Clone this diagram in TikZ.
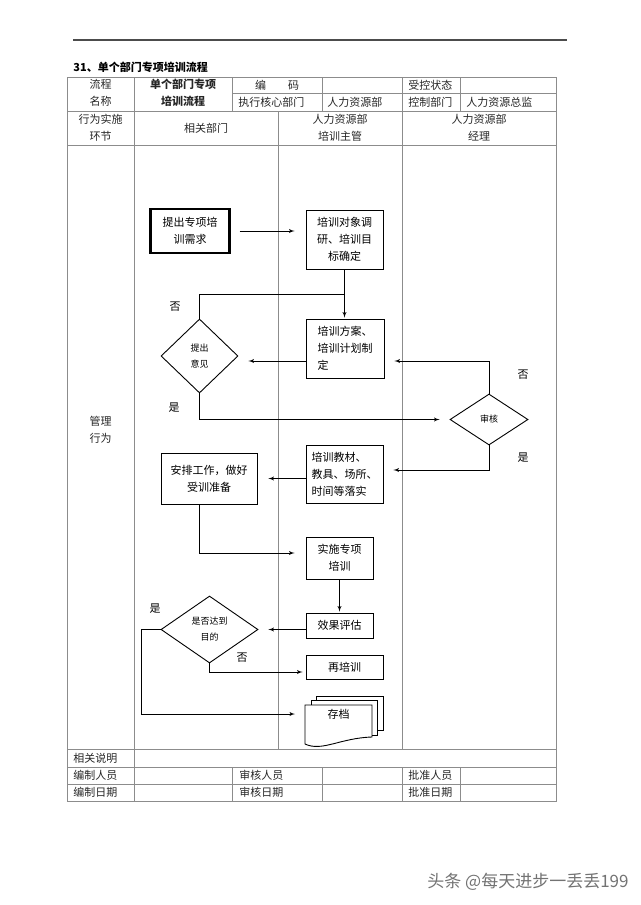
\documentclass[tikz,border=0pt]{standalone}
\usepackage{fontspec}
\setmainfont{Noto Sans CJK SC}
\usetikzlibrary{arrows,calc,positioning,shapes}
\tikzset{
flow/.style={>=latex',x=1pt,y=-1pt,line width=0.9pt,
font=\fontsize{11}{17}\selectfont},
tablerule/.style={draw=black!45,line width=0.9pt},
cellc/.style={inner sep=0pt,align=center,text=black!85},
celll/.style={cellc,anchor=west},
taskbox/.style={rectangle,draw,line width=0.9pt,inner sep=2pt,align=center},
startbox/.style={taskbox,line width=2.4pt},
choice/.style={diamond,draw,line width=0.9pt,inner sep=0pt,align=center,
font=\fontsize{9}{16}\selectfont},
flowarrow/.style={->,line width=0.9pt,shorten >=#1},
flowarrow/.default={1pt},
answer/.style={inner sep=0pt},
}

\begin{document}
\begin{tikzpicture}[flow]
\useasboundingbox (0,0) rectangle (640,905);
% heading
\draw[black!70,line width=1.4pt] (73,40) -- (567,40);
\node[anchor=west,inner sep=0pt,font=\fontsize{11}{13}\selectfont\bfseries] (title) at (73,67) {31、单个部门专项培训流程};

% table
\draw[tablerule] (67,77) rectangle (556,801);
\draw[tablerule] (232,93) -- (556,93);
\foreach \y in {111,145,749,767,784}
  \draw[tablerule] (67,\y) -- (556,\y);
\draw[tablerule] (134,77) -- (134,801);
\foreach \x in {232,322,460}{
  \draw[tablerule] (\x,77) -- (\x,111);
  \draw[tablerule] (\x,767) -- (\x,801);
}
\draw[tablerule] (402,77) -- (402,749);
\draw[tablerule] (402,767) -- (402,801);
\draw[tablerule] (278,111) -- (278,749);

\node[cellc] (hname) at (100.5,93) {流程\\名称};
\node[cellc,font=\fontsize{11}{17}\selectfont\bfseries] (hflow) at (183,93) {单个部门专项\\培训流程};
\node[cellc] (hcode) at (277,85) {编\hspace{22pt}码};
\node[celll] (hstate) at (408,85) {受控状态};
\node[celll] (hexec) at (238,102) {执行核心部门};
\node[celll] (hexecv) at (327,102) {人力资源部};
\node[celll] (hctrl) at (408,102) {控制部门};
\node[celll] (hctrlv) at (466,102) {人力资源总监};
\node[cellc] (hstage) at (100.5,128) {行为实施\\环节};
\node[cellc] (hdept) at (206,128) {相关部门};
\node[cellc] (hsup) at (340,128) {人力资源部\\培训主管};
\node[cellc] (hmgr) at (479,128) {人力资源部\\经理};
\node[cellc] (hact) at (100.5,430) {管理\\行为};

\node[celll] (fnote) at (73,758) {相关说明};
\node[celll] (fmaker) at (73,775.5) {编制人员};
\node[celll] (fmdate) at (73,792.5) {编制日期};
\node[celll] (fcheck) at (239,775.5) {审核人员};
\node[celll] (fcdate) at (239,792.5) {审核日期};
\node[celll] (fapprove) at (408,775.5) {批准人员};
\node[celll] (fadate) at (408,792.5) {批准日期};

% flow
\node[startbox,minimum width=79pt,minimum height=44pt] (need) at (190,231) {提出专项培\\训需求};
\node[taskbox,minimum width=77pt,minimum height=59pt] (survey) at (344.5,239.5) {培训对象调\\研、培训目\\标确定};
\node[taskbox,align=left,minimum width=78pt,minimum height=59pt] (plan) at (345,348.5) {培训方案、\\培训计划制\\定};
\node[choice,minimum width=77pt,minimum height=74pt] (opinion) at (199.5,356) {提出\\意见};
\node[choice,minimum width=78pt,minimum height=51pt] (audit) at (489,419.5) {审核};
\node[taskbox,align=left,minimum width=77pt,minimum height=58pt] (prep) at (344.5,474) {培训教材、\\教具、场所、\\时间等落实};
\node[taskbox,minimum width=96pt,minimum height=51pt] (arrange) at (209,478.5) {安排工作，做好\\受训准备};
\node[taskbox,minimum width=67pt,minimum height=42pt] (train) at (339.5,558) {实施专项\\培训};
\node[taskbox,minimum width=67pt,minimum height=25pt] (eval) at (339.5,625.5) {效果评估};
\node[choice,minimum width=97pt,minimum height=67pt] (goal) at (209.5,629.5) {是否达到\\目的};
\node[taskbox,minimum width=77pt,minimum height=24pt] (retrain) at (344.5,667) {再培训};
\node[inner sep=0pt,minimum width=67pt,minimum height=16pt] (doc) at (338.5,714) {存档};
\draw (316,700) -- (316,696) -- (383,696) -- (383,730) -- (377,730);
\draw (311,705) -- (311,700) -- (377,700) -- (377,735) -- (372,735);
\draw (305,705) -- (372,705) -- (372,737)
  .. controls (340,738) and (322,752) .. (305,744) -- cycle;

\coordinate (merge) at (344.5,294);

\draw[flowarrow=11pt,shorten <=9pt] (need.east) -- (need.east -| survey.west);
\draw[flowarrow] (survey.south) -- (survey.south |- plan.north);
\draw (opinion.north) |- (merge);
\draw[flowarrow=10pt] ($(plan.west)+(0,12.5)$) -- ($(opinion.east)+(0,5)$);
\draw[flowarrow=10pt] (opinion.south) |- (audit.west);
\draw[flowarrow=10pt] (audit.north) |- ($(plan.east)+(0,12.5)$);
\draw[flowarrow=10pt] (audit.south) |- ($(prep.east)+(0,-4)$);
\draw[flowarrow=11pt] (prep.west |- arrange.east) -- (arrange.east);
\draw[flowarrow=11pt] ($(arrange.south)+(-10,0)$) |- ($(train.west)+(0,-5)$);
\draw[flowarrow] (train.south) -- (train.south |- eval.north);
\draw[flowarrow=10pt] (eval.west |- goal.east) -- (goal.east);
\draw[flowarrow=3pt] (goal.south) |- ($(retrain.west)+(0,5)$);
\draw[flowarrow=10pt] (goal.west) -- ++(-19,0) |- (doc.west -| 305,0);

\node[answer] (no1) at (175,307) {否};
\node[answer] (yes1) at (174,408) {是};
\node[answer] (no2) at (523,375) {否};
\node[answer] (yes2) at (523,458) {是};
\node[answer] (no3) at (242,658) {否};
\node[answer] (yes3) at (155,609) {是};

\node[text=black!55,font=\fontsize{17}{17}\selectfont] (credit) at (528,882) {头条 @每天进步一丢丢199};
\end{tikzpicture}
\end{document}
